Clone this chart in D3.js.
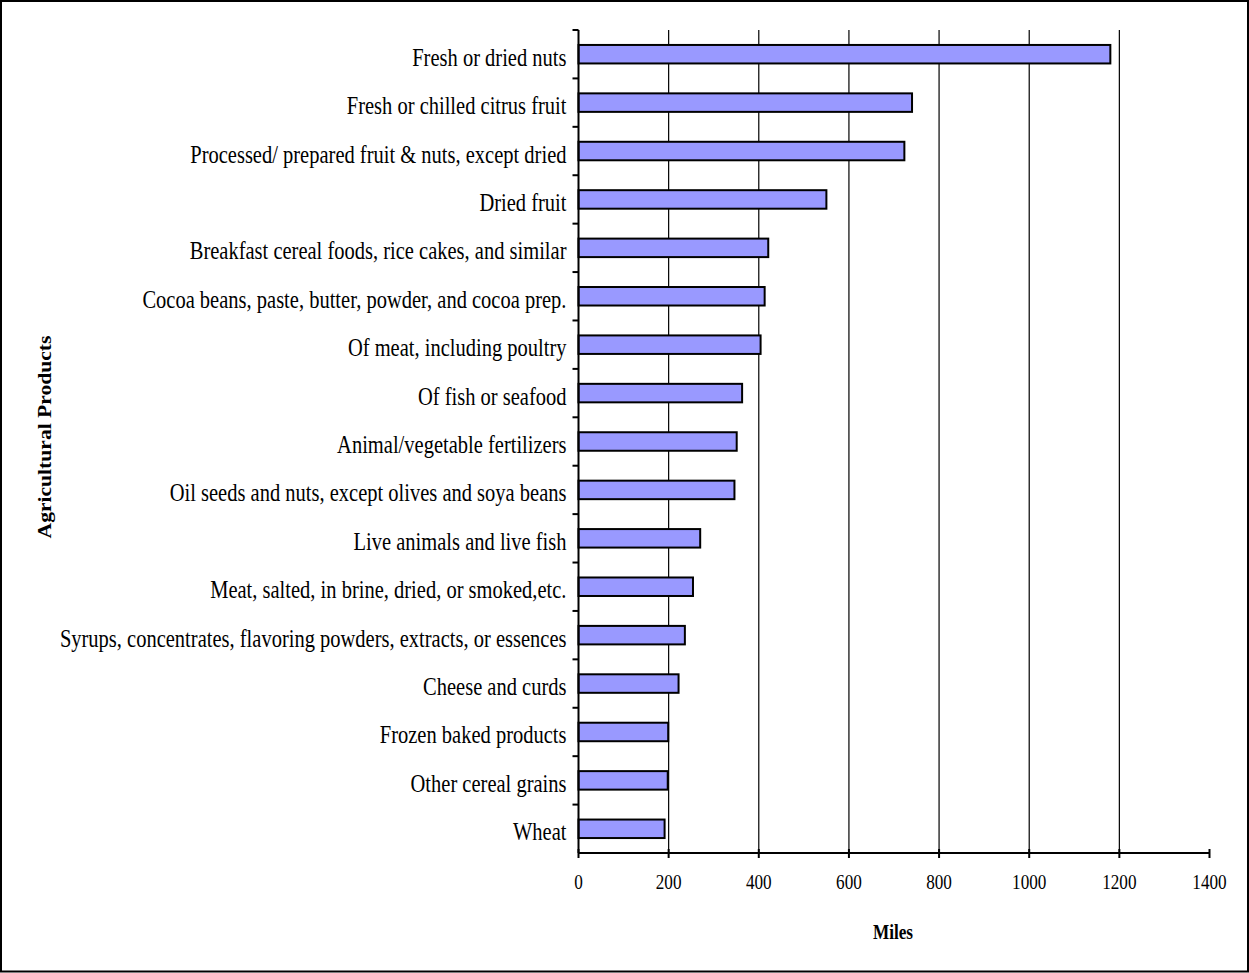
<!DOCTYPE html>
<html>
<head>
<meta charset="utf-8">
<script src="https://cdn.jsdelivr.net/npm/d3@7"></script>
<style>
  html, body { margin: 0; padding: 0; background: #fff; }
  svg { display: block; }
  text { font-family: "Liberation Serif", "Times New Roman", serif; fill: #000; }
</style>
</head>
<body>
<svg id="chart" width="1249" height="973"></svg>
<script>
// Average shipment distance by agricultural product (miles)
const categories = [
  "Fresh or dried nuts",
  "Fresh or chilled citrus fruit",
  "Processed/ prepared fruit & nuts, except dried",
  "Dried fruit",
  "Breakfast cereal foods, rice cakes, and similar",
  "Cocoa beans, paste, butter, powder, and cocoa prep.",
  "Of meat, including poultry",
  "Of fish or seafood",
  "Animal/vegetable fertilizers",
  "Oil seeds and nuts, except olives and soya beans",
  "Live animals and live fish",
  "Meat, salted, in brine, dried, or smoked,etc.",
  "Syrups, concentrates, flavoring powders, extracts, or essences",
  "Cheese and curds",
  "Frozen baked products",
  "Other cereal grains",
  "Wheat"
];
const miles = [1180, 740, 723, 550, 421, 413, 404, 363, 351, 346, 270, 254, 236, 222, 199, 198, 191];
const xTicks = [0, 200, 400, 600, 800, 1000, 1200, 1400];

const svg = d3.select("#chart");
const W = 1249, H = 973;
const plot = { left: 578.5, right: 1209.5, top: 30, bottom: 853 };
const squeeze = 0.82; // narrow, tall lettering

// outer frame
svg.append("rect")
  .attr("x", 1).attr("y", 1).attr("width", W - 2).attr("height", H - 2.5)
  .attr("fill", "none").attr("stroke", "#000").attr("stroke-width", 2);

const x = d3.scaleLinear().domain([0, 1400]).range([plot.left, plot.right]);
const band = d3.scaleBand().domain(categories).range([plot.top, plot.bottom]);
const barH = 18.5;

// vertical gridlines
svg.append("g").selectAll("line")
  .data(xTicks.filter(t => t > 0 && t < 1400))
  .join("line")
  .attr("x1", d => x(d)).attr("x2", d => x(d))
  .attr("y1", plot.top).attr("y2", plot.bottom)
  .attr("stroke", "#000").attr("stroke-width", 1.2);

// bars
svg.append("g").selectAll("rect")
  .data(categories)
  .join("rect")
  .attr("x", x(0))
  .attr("y", d => band(d) + band.bandwidth() / 2 - barH / 2)
  .attr("width", (d, i) => x(miles[i]) - x(0))
  .attr("height", barH)
  .attr("fill", "#9999FF")
  .attr("stroke", "#000")
  .attr("stroke-width", 2);

// y axis: line with outward ticks at band boundaries
const yAxis = svg.append("g");
yAxis.append("line")
  .attr("x1", plot.left).attr("x2", plot.left)
  .attr("y1", plot.top).attr("y2", plot.bottom)
  .attr("stroke", "#000").attr("stroke-width", 2);
yAxis.selectAll("line.tick")
  .data(categories.map(c => band(c)))
  .join("line").attr("class", "tick")
  .attr("x1", plot.left - 6).attr("x2", plot.left)
  .attr("y1", d => d).attr("y2", d => d)
  .attr("stroke", "#000").attr("stroke-width", 2);
yAxis.selectAll("text")
  .data(categories)
  .join("text")
  .attr("transform", d =>
    `translate(${plot.left - 12},${band(d) + band.bandwidth() / 2 + 11.5}) scale(${squeeze},1)`)
  .attr("text-anchor", "end")
  .attr("font-size", 25)
  .text(d => d);

// x axis
const xAxis = svg.append("g");
xAxis.append("line")
  .attr("x1", plot.left).attr("x2", plot.right)
  .attr("y1", plot.bottom).attr("y2", plot.bottom)
  .attr("stroke", "#000").attr("stroke-width", 2);
xAxis.selectAll("line.tick")
  .data(xTicks)
  .join("line").attr("class", "tick")
  .attr("x1", d => x(d)).attr("x2", d => x(d))
  .attr("y1", plot.bottom - 4).attr("y2", plot.bottom + 5)
  .attr("stroke", "#000").attr("stroke-width", 2);
xAxis.selectAll("text")
  .data(xTicks)
  .join("text")
  .attr("transform", d => `translate(${x(d)},${plot.bottom + 36}) scale(0.78,1)`)
  .attr("text-anchor", "middle")
  .attr("font-size", 22)
  .text(d => d);

// axis titles
svg.append("text")
  .attr("transform", `translate(893,939) scale(${squeeze},1)`)
  .attr("text-anchor", "middle")
  .attr("font-size", 21)
  .attr("font-weight", "bold")
  .text("Miles");

svg.append("text")
  .attr("transform", "translate(51,437) rotate(-90) scale(1.2,1)")
  .attr("text-anchor", "middle")
  .attr("font-size", 18)
  .attr("font-weight", "bold")
  .text("Agricultural Products");
</script>
</body>
</html>
